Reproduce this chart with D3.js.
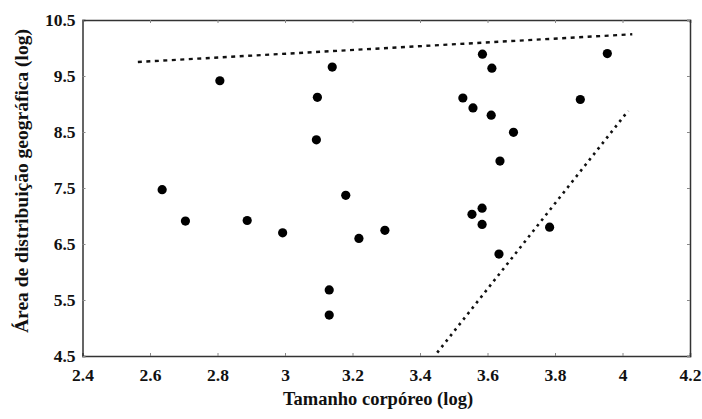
<!DOCTYPE html>
<html>
<head>
<meta charset="utf-8">
<script src="https://cdn.jsdelivr.net/npm/d3@7"></script>
<style>
  body { margin: 0; background: #fff; }
  text { font-family: "Liberation Serif", "DejaVu Serif", serif; font-weight: bold; fill: #111; }
</style>
</head>
<body>
<div id="chart"></div>
<script>
// body size vs geographic range (both log)
const bodySize = [2.636, 2.705, 2.807, 2.888, 2.993, 3.096, 3.093, 3.14, 3.131, 3.131, 3.18, 3.219, 3.296,
  3.527, 3.557, 3.554, 3.584, 3.584, 3.585, 3.613, 3.611, 3.637, 3.634, 3.677, 3.784, 3.875, 3.955];
const rangeArea = [7.47, 6.91, 9.415, 6.92, 6.70, 9.12, 8.36, 9.66, 5.68, 5.23, 7.37, 6.60, 6.745,
  9.107, 8.93, 7.03, 7.14, 6.85, 9.89, 9.64, 8.80, 7.98, 6.32, 8.495, 6.80, 9.08, 9.90];

// boundary lines, [x1, y1, x2, y2]
const upperBound = [2.564, 9.75, 4.029, 10.245];
const lowerBound = [3.451, 4.56, 4.017, 8.88];

const xTicks = [2.4, 2.6, 2.8, 3, 3.2, 3.4, 3.6, 3.8, 4, 4.2];
const yTicks = [4.5, 5.5, 6.5, 7.5, 8.5, 9.5, 10.5];

const width = 702, height = 419;
const margin = {top: 20, right: 12, bottom: 63, left: 82.5};

const svg = d3.select("#chart").append("svg")
    .attr("width", width)
    .attr("height", height);

const x = d3.scaleLinear().domain([2.4, 4.2]).range([margin.left, width - margin.right]);
const y = d3.scaleLinear().domain([4.5, 10.5]).range([height - margin.bottom, margin.top]);

const fmt = d => String(d);

// axes
svg.append("g")
    .attr("transform", `translate(0,${height - margin.bottom})`)
    .call(d3.axisBottom(x).tickValues(xTicks).tickFormat(fmt).tickSize(-3).tickPadding(10))
    .call(g => g.selectAll("text").attr("font-size", 17.5).attr("dy", "0.85em"));

svg.append("g")
    .attr("transform", `translate(${margin.left},0)`)
    .call(d3.axisLeft(y).tickValues(yTicks).tickFormat(fmt).tickSize(-3).tickPadding(7))
    .call(g => g.selectAll("text").attr("font-size", 17.5));

// top and right frame with small ticks
svg.append("g")
    .attr("transform", `translate(0,${margin.top})`)
    .call(d3.axisTop(x).tickValues(xTicks).tickFormat("").tickSize(-3));
svg.append("g")
    .attr("transform", `translate(${width - margin.right},0)`)
    .call(d3.axisRight(y).tickValues(yTicks).tickFormat("").tickSize(-3));

svg.selectAll(".domain").attr("stroke", "#333").attr("stroke-width", 1.5);
svg.selectAll(".tick line").attr("stroke", "#888");

// dashed bounds
svg.append("line")
    .attr("x1", x(upperBound[0])).attr("y1", y(upperBound[1]))
    .attr("x2", x(upperBound[2])).attr("y2", y(upperBound[3]))
    .attr("stroke", "#111").attr("stroke-width", 2.4)
    .attr("stroke-dasharray", "4,4.5");

svg.append("line")
    .attr("x1", x(lowerBound[0])).attr("y1", y(lowerBound[1]))
    .attr("x2", x(lowerBound[2])).attr("y2", y(lowerBound[3]))
    .attr("stroke", "#111").attr("stroke-width", 2.6)
    .attr("stroke-dasharray", "2.6,4.4");

// points
svg.append("g")
  .selectAll("circle")
  .data(bodySize.map((d, i) => [d, rangeArea[i]]))
  .join("circle")
    .attr("cx", d => x(d[0]))
    .attr("cy", d => y(d[1]))
    .attr("r", 4.6)
    .attr("fill", "#000");

// axis titles
svg.append("text")
    .attr("x", 378)
    .attr("y", 405)
    .attr("text-anchor", "middle")
    .attr("font-size", 18.5)
    .text("Tamanho corpóreo (log)");

svg.append("text")
    .attr("transform", `translate(28,181) rotate(-90)`)
    .attr("text-anchor", "middle")
    .attr("font-size", 19.5)
    .text("Área de distribuição geográfica (log)");
</script>
</body>
</html>
